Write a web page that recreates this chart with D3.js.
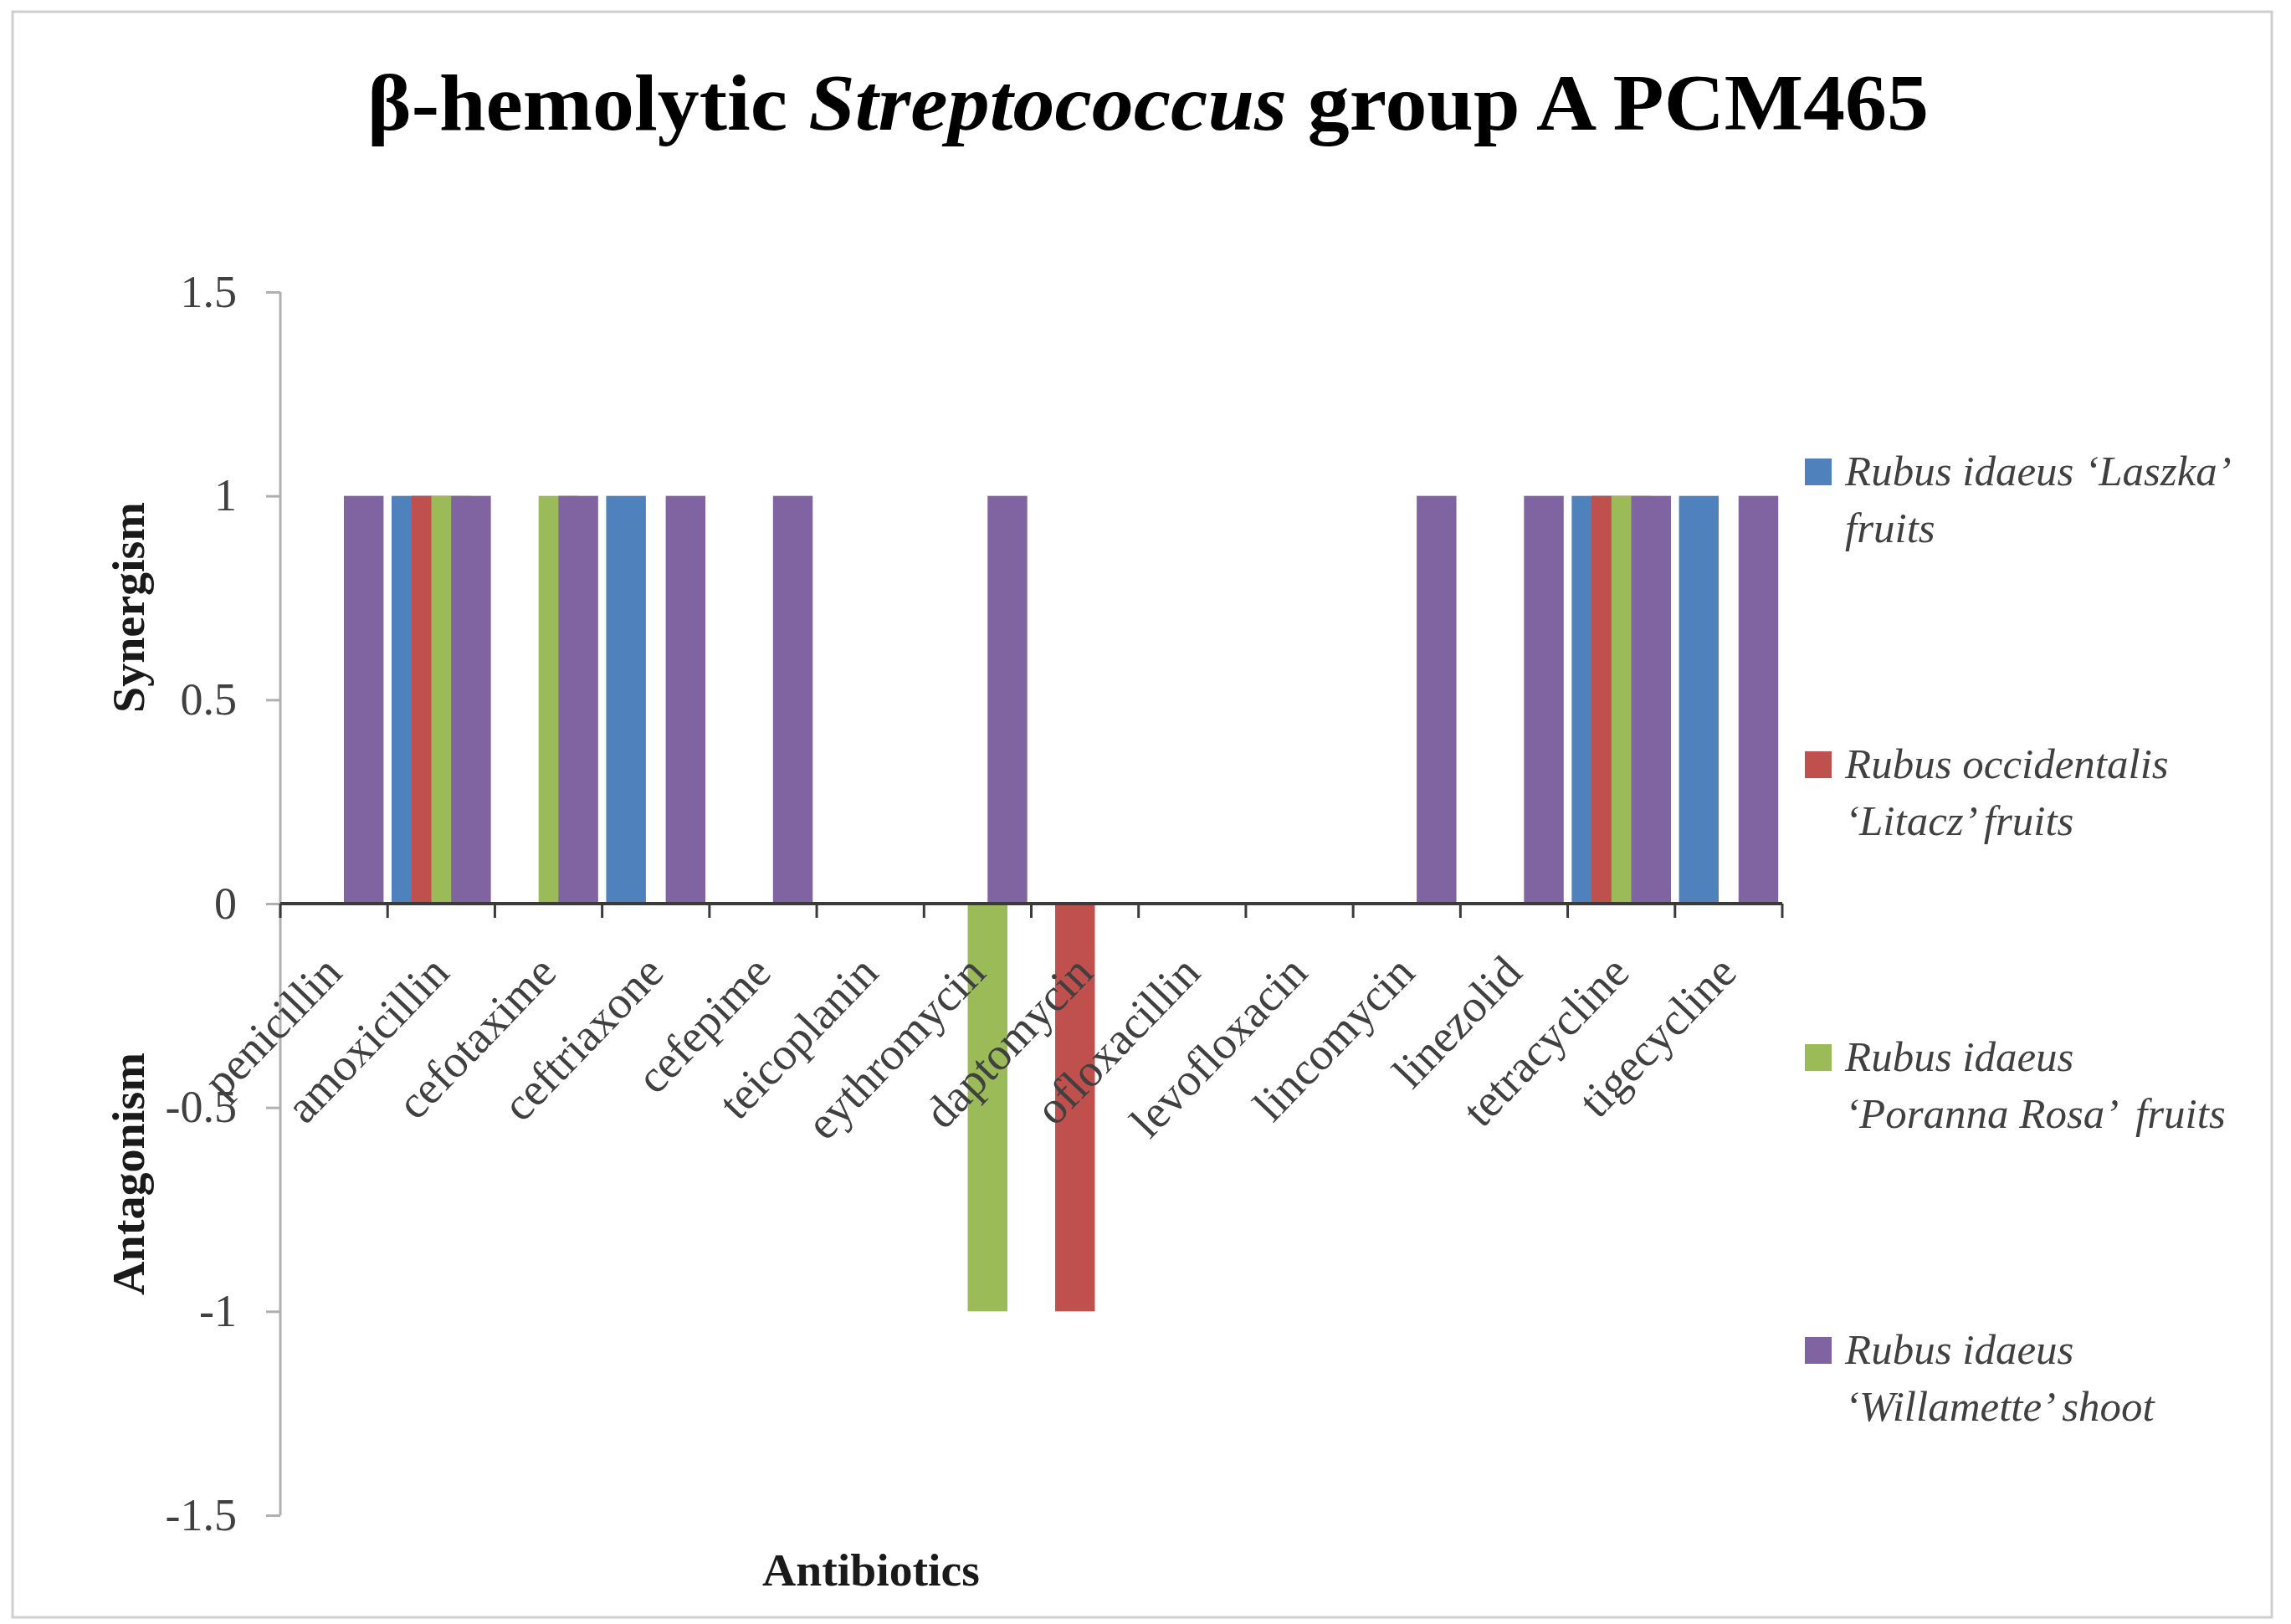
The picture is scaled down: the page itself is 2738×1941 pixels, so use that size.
<!DOCTYPE html>
<html>
<head>
<meta charset="utf-8">
<script src="https://cdn.jsdelivr.net/npm/d3@7/dist/d3.min.js"></script>
<style>
  body { margin: 0; background: #fff; }
  text { font-family: "Liberation Serif", "Times New Roman", serif; }
</style>
</head>
<body>
<div id="chart"></div>
<script>
// data
var categories = ["penicillin", "amoxicillin", "cefotaxime", "ceftriaxone", "cefepime",
  "teicoplanin", "eythromycin", "daptomycin", "ofloxacillin", "levofloxacin",
  "lincomycin", "linezolid", "tetracycline", "tigecycline"];

var laszka     = [0, 1, 0, 1, 0, 0, 0, 0, 0, 0, 0, 0, 1, 1];
var litacz     = [0, 1, 0, 0, 0, 0, 0, -1, 0, 0, 0, 0, 1, 0];
var porannaRosa = [0, 1, 1, 0, 0, 0, -1, 0, 0, 0, 0, 0, 1, 0];
var willamette = [1, 1, 1, 1, 1, 0, 1, 0, 0, 0, 1, 1, 1, 1];

var seriesLabels = [
  ["Rubus idaeus \u2018Laszka\u2019", "fruits"],
  ["Rubus occidentalis", "\u2018Litacz\u2019 fruits"],
  ["Rubus idaeus", "\u2018Poranna Rosa\u2019  fruits"],
  ["Rubus idaeus", "\u2018Willamette\u2019 shoot"]
];
var seriesColors = ["#4F81BD", "#C0504D", "#9BBB59", "#8064A2"];

var yTicks = [-1.5, -1, -0.5, 0, 0.5, 1, 1.5];
var yTickLabels = ["-1.5", "-1", "-0.5", "0", "0.5", "1", "1.5"];

var seriesValues = [laszka, litacz, porannaRosa, willamette];

// SVG area
var svgWidth = 2738;
var svgHeight = 1941;

var plot = { left: 335, right: 2130, top: 349, bottom: 1811 };

var svg = d3.select("#chart")
  .append("svg")
  .attr("width", svgWidth)
  .attr("height", svgHeight);

// outer frame
svg.append("rect")
  .attr("x", 15).attr("y", 14)
  .attr("width", 2700).attr("height", 1919)
  .attr("fill", "#fff")
  .attr("stroke", "#cfcfcf")
  .attr("stroke-width", 3);

// scales
var xScale = d3.scaleBand()
  .domain(categories)
  .range([plot.left, plot.right])
  .padding(0);

var yScale = d3.scaleLinear()
  .domain([-1.5, 1.5])
  .range([plot.bottom, plot.top]);

var bw = xScale.bandwidth();
var barW = bw * 0.37;      // excel style overlapping bars
var barStep = barW / 2;
var groupW = barW + 3 * barStep;

// flatten into bar records
var bars = [];
seriesValues.forEach(function(vals, s) {
  vals.forEach(function(v, i) {
    if (v !== 0) bars.push({ cat: categories[i], s: s, value: v });
  });
});

svg.append("g").selectAll("rect")
  .data(bars)
  .enter()
  .append("rect")
  .attr("x", d => xScale(d.cat) + (bw - groupW) / 2 + d.s * barStep)
  .attr("width", barW)
  .attr("y", d => yScale(Math.max(0, d.value)))
  .attr("height", d => Math.abs(yScale(d.value) - yScale(0)))
  .attr("fill", d => seriesColors[d.s]);

// y axis
var leftAxis = d3.axisLeft(yScale)
  .tickValues(yTicks)
  .tickSize(17)
  .tickPadding(35)
  .tickFormat((d, i) => yTickLabels[i]);

var yAxis = svg.append("g")
  .attr("transform", `translate(${plot.left}, 0)`)
  .call(leftAxis);
yAxis.select(".domain").remove();
yAxis.append("line")
  .attr("x1", 0).attr("x2", 0)
  .attr("y1", plot.top).attr("y2", plot.bottom)
  .attr("stroke", "#b0b0b0")
  .attr("stroke-width", 3);
yAxis.selectAll(".tick line")
  .attr("stroke", "#b0b0b0")
  .attr("stroke-width", 3);
yAxis.selectAll(".tick text")
  .attr("fill", "#404040")
  .style("font-size", "54px")
  .style("font-family", "Liberation Serif");

// category axis on zero line
var zeroY = yScale(0);
var catAxis = svg.append("g");
catAxis.append("line")
  .attr("x1", plot.left).attr("x2", plot.right)
  .attr("y1", zeroY).attr("y2", zeroY)
  .attr("stroke", "#3a3a3a")
  .attr("stroke-width", 4);

var tickXs = categories.map(c => xScale(c)).concat([plot.right]);
catAxis.selectAll("line.tick")
  .data(tickXs)
  .enter()
  .append("line")
  .attr("class", "tick")
  .attr("x1", d => d).attr("x2", d => d)
  .attr("y1", zeroY).attr("y2", zeroY + 17)
  .attr("stroke", "#3a3a3a")
  .attr("stroke-width", 3);

catAxis.selectAll("text")
  .data(categories)
  .enter()
  .append("text")
  .attr("transform", d => `translate(${xScale(d) + bw / 2 + 12}, ${zeroY + 85}) rotate(-46)`)
  .attr("text-anchor", "end")
  .attr("fill", "#404040")
  .style("font-size", "55px")
  .text(d => d);

// title
var title = svg.append("text")
  .attr("x", 1372)
  .attr("y", 155)
  .attr("text-anchor", "middle")
  .attr("fill", "#000")
  .attr("textLength", 1866)
  .attr("lengthAdjust", "spacingAndGlyphs")
  .style("font-size", "96px")
  .style("font-weight", "bold");
title.append("tspan").text("\u03B2-hemolytic ");
title.append("tspan").style("font-style", "italic").text("Streptococcus");
title.append("tspan").text(" group A PCM465");

// axis titles
svg.append("text")
  .attr("transform", "translate(172, 726) rotate(-90)")
  .attr("text-anchor", "middle")
  .attr("textLength", 252)
  .attr("lengthAdjust", "spacingAndGlyphs")
  .style("font-size", "54px")
  .style("font-weight", "bold")
  .attr("fill", "#1a1a1a")
  .text("Synergism");

svg.append("text")
  .attr("transform", "translate(172, 1403) rotate(-90)")
  .attr("text-anchor", "middle")
  .attr("textLength", 290)
  .attr("lengthAdjust", "spacingAndGlyphs")
  .style("font-size", "54px")
  .style("font-weight", "bold")
  .attr("fill", "#1a1a1a")
  .text("Antagonism");

svg.append("text")
  .attr("x", 1041)
  .attr("y", 1895)
  .attr("text-anchor", "middle")
  .attr("textLength", 260)
  .attr("lengthAdjust", "spacingAndGlyphs")
  .style("font-size", "54px")
  .style("font-weight", "bold")
  .attr("fill", "#1a1a1a")
  .text("Antibiotics");

// legend
var legend = svg.append("g")
  .selectAll("g")
  .data(seriesLabels)
  .enter()
  .append("g")
  .attr("transform", (d, i) => `translate(2157, ${548 + i * 350})`);

legend.append("rect")
  .attr("width", 32)
  .attr("height", 32)
  .attr("fill", (d, i) => seriesColors[i]);

legend.each(function(d) {
  var g = d3.select(this);
  d.forEach(function(line, j) {
    g.append("text")
      .attr("x", 48)
      .attr("y", 32 + j * 68)
      .attr("fill", "#404040")
      .style("font-size", "51px")
      .style("font-style", "italic")
      .attr("xml:space", "preserve")
      .text(line);
  });
});
</script>
</body>
</html>
